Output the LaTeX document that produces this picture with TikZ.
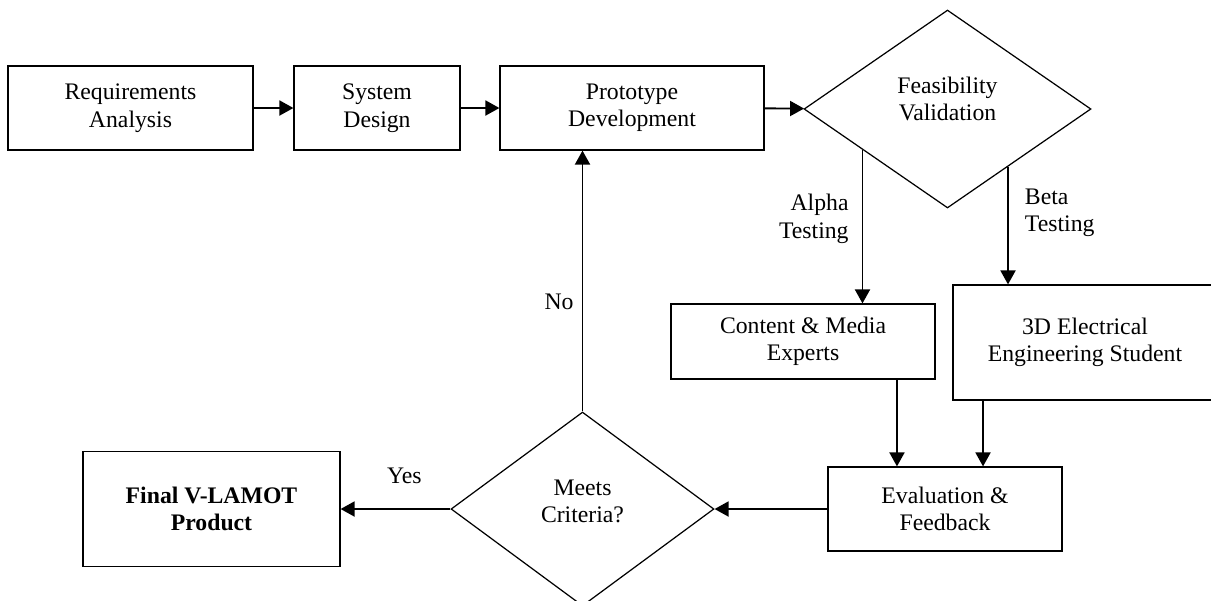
\documentclass[tikz,border=0pt]{standalone}
\usepackage{fontspec}
\setmainfont{Liberation Serif}
\usetikzlibrary{arrows.meta}
\usetikzlibrary{shapes.geometric}
\usetikzlibrary{calc}

\tikzset{
  txt/.style={font=\fontsize{13.5}{15.6}\selectfont},
  box/.style={txt, draw, line width=0.7pt, align=center, inner sep=0pt},
  decision/.style={box, diamond},
  flow/.style={-{Triangle[length=0.28cm, width=0.3cm]}, line width=1.1pt},
  lbl/.style={txt, inner sep=0pt}
}

\begin{document}
\begin{tikzpicture}[x=0.02cm, y=-0.02cm]
    \useasboundingbox (0,0) rectangle (1211,600);

    % top row
    \node[box, minimum width=4.9cm, minimum height=1.68cm] (req) at (130.5, 108) {Requirements\\Analysis};
    \node[box, minimum width=3.32cm, minimum height=1.68cm] (sys) at (377, 108) {System\\Design};
    \node[box, minimum width=5.28cm, minimum height=1.68cm] (proto) at (632, 108) {Prototype\\Development};
    \node[decision, minimum width=5.74cm, minimum height=3.96cm, text depth=0.4cm] (feas) at (947.5, 109) {Feasibility\\Validation};

    % testing groups
    \node[box, minimum width=5.28cm, minimum height=1.5cm] (content) at (803, 341.5) {Content \& Media\\Experts};
    \node[box, minimum width=5.28cm, minimum height=2.3cm] (student) at (1085, 342.5) {3D Electrical\\Engineering Student};

    % bottom row
    \node[box, minimum width=4.68cm, minimum height=1.68cm] (eval) at (945, 509) {Evaluation \&\\Feedback};
    \node[decision, minimum width=5.26cm, minimum height=3.88cm, text depth=0.3cm] (meets) at (582.5, 509) {Meets\\Criteria?};
    \node[box, minimum width=5.14cm, minimum height=2.3cm, font=\fontsize{13.5}{15.6}\selectfont\bfseries] (final) at (211.5, 509) {Final V-LAMOT\\Product};

    \draw[flow] (req) -- (sys);
    \draw[flow] (sys) -- (proto);
    \draw[flow] (proto) -- (feas);

    \coordinate (alpha) at ($(feas.west)!0.41!(feas.south)$);
    \coordinate (beta) at ($(feas.east)!0.58!(feas.south)$);
    \draw[flow] (alpha) -- (alpha |- content.north)
        node[lbl, pos=0.45, left=0.26cm, align=right] {Alpha\\Testing};
    \draw[flow] (beta) -- (beta |- student.north)
        node[lbl, pos=0.39, right=0.32cm, align=left] {Beta\\Testing};

    \draw[flow] ([xshift=1.88cm]content.south) -- ([xshift=1.88cm]content.south |- eval.north);
    \draw[flow] ([xshift=-2.04cm]student.south) -- ([xshift=-2.04cm]student.south |- eval.north);

    \draw[flow] (eval) -- (meets);
    \draw[flow] (meets) -- (final) node[lbl, pos=0.42, above=0.48cm] {Yes};
    \draw[flow] (meets.north) -- (meets.north |- proto.south)
        node[lbl, pos=0.42, left=0.16cm] {No};
\end{tikzpicture}
\end{document}
